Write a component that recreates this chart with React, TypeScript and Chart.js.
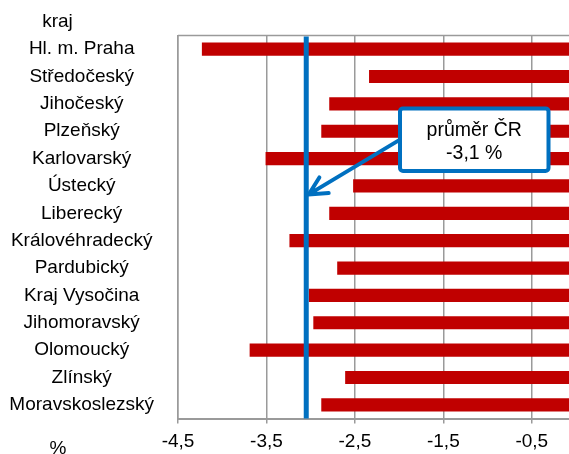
import React, { useEffect, useRef } from 'react';
import { Chart, registerables } from 'chart.js';

Chart.register(...registerables);

const categories = [
  'Hl. m. Praha',
  'Středočeský',
  'Jihočeský',
  'Plzeňský',
  'Karlovarský',
  'Ústecký',
  'Liberecký',
  'Královéhradecký',
  'Pardubický',
  'Kraj Vysočina',
  'Jihomoravský',
  'Olomoucký',
  'Zlínský',
  'Moravskoslezský',
];
const values = [-4.23, -2.34, -2.79, -2.88, -3.51, -2.52, -2.79, -3.24, -2.7, -3.02, -2.97, -3.69, -2.61, -2.88];
const xTicks = [-4.5, -3.5, -2.5, -1.5, -0.5];
const average = -3.05;
const averageLabel = ['průměr ČR', '-3,1 %'];
const yTitle = 'kraj';
const xTitle = '%';

const FONT = '"Liberation Sans", Arial, sans-serif';
const BLUE = '#0070C0';
const GRID = '#9a9a9a';

const overlay = {
  id: 'overlay',
  afterDatasetsDraw(chart: any) {
    const { ctx, chartArea: a, scales } = chart;
    const x = scales.x.getPixelForValue(average);
    ctx.save();
    // top border
    ctx.strokeStyle = GRID;
    ctx.lineWidth = 1.5;
    ctx.beginPath();
    ctx.moveTo(a.left, a.top);
    ctx.lineTo(a.right, a.top);
    ctx.stroke();

    // average line
    ctx.strokeStyle = BLUE;
    ctx.lineWidth = 5;
    ctx.beginPath();
    ctx.moveTo(x, a.top + 1);
    ctx.lineTo(x, a.bottom);
    ctx.stroke();

    // callout box
    const bx = a.left + 222;
    const by = a.top + 73;
    const bw = 148.5;
    const bh = 62.5;
    ctx.fillStyle = '#ffffff';
    ctx.strokeStyle = BLUE;
    ctx.lineWidth = 4;
    ctx.beginPath();
    (ctx as any).roundRect(bx, by, bw, bh, 3);
    ctx.fill();
    ctx.stroke();

    ctx.fillStyle = '#000';
    ctx.font = `19.5px ${FONT}`;
    ctx.textAlign = 'center';
    ctx.textBaseline = 'middle';
    ctx.fillText(averageLabel[0], bx + bw / 2, by + 22);
    ctx.fillText(averageLabel[1], bx + bw / 2, by + 45);

    // arrow
    const sx = bx;
    const sy = by + bh / 2;
    const tx = x + 2.5;
    const ty = a.top + 159;
    ctx.strokeStyle = BLUE;
    ctx.lineWidth = 4;
    ctx.lineCap = 'round';
    ctx.beginPath();
    ctx.moveTo(sx, sy);
    ctx.lineTo(tx, ty);
    const ang = Math.atan2(sy - ty, sx - tx);
    const len = 20;
    const spread = (27 * Math.PI) / 180;
    ctx.moveTo(tx + len * Math.cos(ang - spread), ty + len * Math.sin(ang - spread));
    ctx.lineTo(tx, ty);
    ctx.lineTo(tx + len * Math.cos(ang + spread), ty + len * Math.sin(ang + spread));
    ctx.stroke();

    // axis titles
    ctx.fillStyle = '#000';
    ctx.font = `19px ${FONT}`;
    ctx.textAlign = 'center';
    ctx.textBaseline = 'alphabetic';
    ctx.fillText(yTitle, 57.5, 27);
    ctx.fillText(xTitle, 58, 454);
    ctx.restore();
  },
};

export default function App() {
  const ref = useRef<HTMLCanvasElement | null>(null);

  useEffect(() => {
    if (!ref.current) return;
    const chart = new Chart(ref.current, {
      type: 'bar',
      data: {
        labels: categories,
        datasets: [
          {
            data: values,
            backgroundColor: '#C00000',
            borderWidth: 0,
            barPercentage: 0.48,
            categoryPercentage: 1,
          },
        ],
      },
      options: {
        indexAxis: 'y',
        responsive: false,
        animation: false,
        layout: { padding: { top: 33, left: 0, right: 0, bottom: 0 } },
        plugins: { legend: { display: false }, tooltip: { enabled: false } },
        scales: {
          x: {
            min: -4.5,
            max: 0,
            afterBuildTicks: (s: any) => {
              s.ticks = xTicks.map((v) => ({ value: v }));
            },
            afterFit: (s: any) => {
              s.height = 32;
            },
            grid: { color: GRID, lineWidth: 1.5, tickLength: 5, drawTicks: true, tickColor: GRID },
            border: { display: true, color: GRID, width: 2 },
            ticks: {
              autoSkip: false,
              maxRotation: 0,
              padding: 7,
              color: '#000',
              font: { size: 19, family: FONT },
              callback: (v: any) => Number(v).toFixed(1).replace('.', ','),
            },
          },
          y: {
            grid: { display: false, drawTicks: false },
            border: { display: true, color: GRID, width: 1.5 },
            afterFit: (s: any) => {
              s.width = 178;
            },
            ticks: {
              crossAlign: 'center',
              padding: 24,
              color: '#000',
              font: { size: 19, family: FONT },
            },
          },
        },
      },
      plugins: [overlay],
    } as any);
    return () => chart.destroy();
  }, []);

  return (
    <div style={{ position: 'absolute', left: 0, top: 0, width: 569, height: 454, overflow: 'hidden', background: '#fff' }}>
      <canvas ref={ref} width={576} height={454} style={{ display: 'block' }} />
    </div>
  );
}
